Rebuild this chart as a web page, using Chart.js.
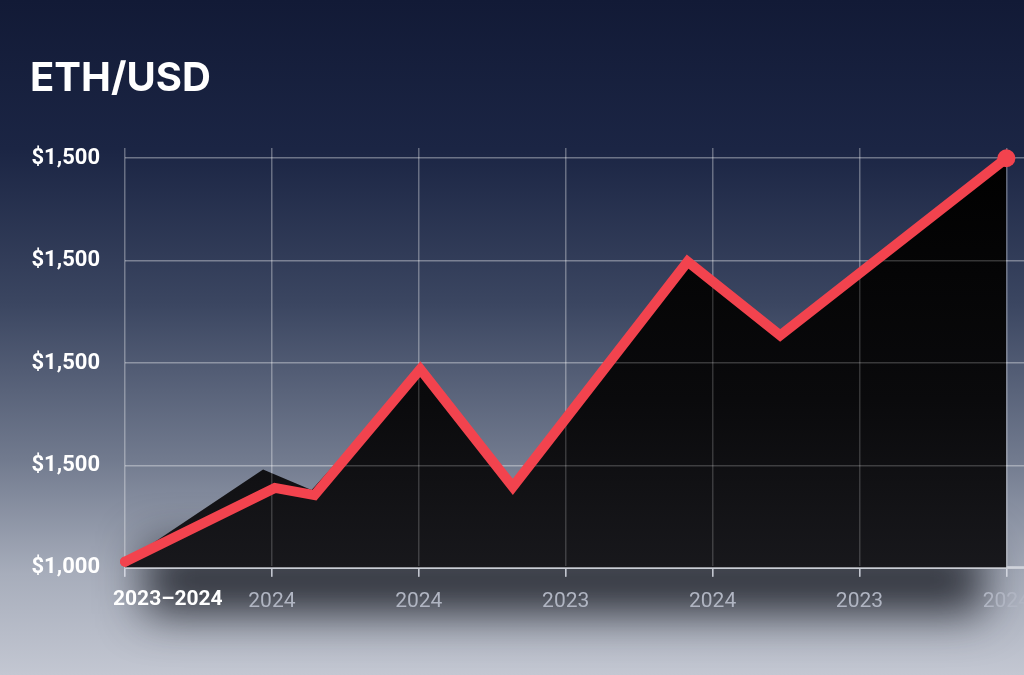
<!DOCTYPE html>
<html>
<head>
<meta charset="utf-8">
<title>ETH/USD</title>
<script src="https://cdn.jsdelivr.net/npm/chart.js@4.4.0/dist/chart.umd.min.js"></script>
<style>
  html, body { margin:0; padding:0; }
  body {
    width:1024px; height:675px; overflow:hidden;
    background: linear-gradient(180deg, #121a36 0%, #1b2544 22%, #3b4661 45%, #717a8e 68%, #a7adbb 85%, #c3c7d2 100%);
  }
  canvas { display:block; }
</style>
</head>
<body>
<canvas id="ethChart" width="1024" height="675"></canvas>
<script>
// tick labels
const xTicks = ['2023–2024', '2024', '2024', '2023', '2024', '2023', '2024'];
const yTicks = ['$1,000', '$1,500', '$1,500', '$1,500', '$1,500'];

// price line (x in tick units, y in gridline units)
const priceX = [0, 1.02, 1.29, 2.01, 2.64, 3.83, 4.46, 6.0];
const priceY = [0.06, 0.78, 0.71, 1.94, 0.79, 2.99, 2.27, 4.0];

// black area under the line (slightly different knee)
const areaX = [0, 0.94, 1.27, 2.01, 2.64, 3.83, 4.46, 6.0];
const areaY = [0.06, 0.96, 0.76, 1.94, 0.79, 2.99, 2.27, 4.0];

const RED = '#f2434e';

// soft dark shadow under the plot
const plotShadow = {
  id: 'plotShadow',
  beforeDraw(chart) {
    const { ctx, chartArea: a } = chart;
    ctx.save();
    ctx.shadowColor = 'rgba(18,20,28,0.8)';
    ctx.shadowBlur = 45;
    ctx.shadowOffsetX = 5000;
    ctx.shadowOffsetY = 28;
    ctx.fillStyle = '#000';
    ctx.fillRect(a.left + 20 - 5000, a.bottom - 50, a.right - a.left - 60, 68);
    ctx.restore();
  }
};

// grid lines show through the black area
const gridOverFill = {
  id: 'gridOverFill',
  afterDatasetDraw(chart, args) {
    if (args.index !== 1) return;
    chart.ctx.save();
    chart.scales.x.drawGrid(chart.chartArea);
    chart.scales.y.drawGrid(chart.chartArea);
    chart.ctx.restore();
  }
};

// first x label is bold and sits right of its tick
const firstLabel = {
  id: 'firstLabel',
  afterDraw(chart) {
    const sx = chart.scales.x, ctx = chart.ctx;
    ctx.save();
    ctx.font = '700 21px Roboto';
    ctx.fillStyle = '#ffffff';
    ctx.textAlign = 'left';
    ctx.textBaseline = 'middle';
    ctx.fillText(xTicks[0], sx.getPixelForValue(0) - 12, sx.top + 32);
    ctx.restore();
  }
};

const ctx = document.getElementById('ethChart').getContext('2d');

new Chart(ctx, {
  type: 'line',
  data: {
    datasets: [{
      data: priceX.map((x, i) => ({ x, y: priceY[i] })),
      borderColor: RED,
      borderWidth: 10,
      borderCapStyle: 'round',
      borderJoinStyle: 'miter',
      tension: 0,
      fill: false,
      pointRadius: priceX.map((_, i) => i === priceX.length - 1 ? 9 : (i === 0 ? 5 : 0)),
      pointBackgroundColor: RED,
      pointBorderWidth: 0,
      clip: false,
      order: 0
    }, {
      data: areaX.map((x, i) => ({ x, y: areaY[i] })),
      borderWidth: 0,
      pointRadius: 0,
      tension: 0,
      fill: 'origin',
      backgroundColor: (c) => {
        const a = c.chart.chartArea;
        if (!a) return '#000';
        const g = c.chart.ctx.createLinearGradient(0, a.top, 0, a.bottom);
        g.addColorStop(0, '#000000');
        g.addColorStop(0.6, '#0a0a0c');
        g.addColorStop(1, '#18181c');
        return g;
      },
      order: 1
    }]
  },
  options: {
    responsive: false,
    animation: false,
    layout: { autoPadding: false, padding: { left: 30, right: 0, top: 0, bottom: 49 } },
    plugins: {
      legend: { display: false },
      tooltip: { enabled: false },
      title: {
        display: true,
        text: 'ETH/USD',
        align: 'start',
        color: '#ffffff',
        font: { family: 'Inter', size: 40, weight: '700' },
        padding: { top: 55, bottom: 45 }
      }
    },
    scales: {
      x: {
        type: 'linear',
        min: 0,
        max: 6.12,
        afterBuildTicks: s => { s.ticks = xTicks.map((_, i) => ({ value: i })); },
        afterFit: s => { s.paddingLeft = 0; s.paddingRight = 0; },
        grid: { color: 'rgba(255,255,255,0.18)', lineWidth: 1.5, tickLength: 9, tickColor: 'rgba(220,224,232,0.6)' },
        border: { display: true, color: '#c5c9d2', width: 3 },
        ticks: {
          autoSkip: false,
          maxRotation: 0,
          padding: 12,
          color: '#b0b5c2',
          font: { family: 'Roboto', size: 21 },
          callback: (v, i) => i === 0 ? '' : xTicks[i]
        }
      },
      y: {
        min: 0,
        max: 4.1,
        afterBuildTicks: s => { s.ticks = yTicks.map((_, i) => ({ value: i })); },
        afterFit: s => { s.width = 95; },
        grid: { color: 'rgba(255,255,255,0.2)', lineWidth: 1.5, drawTicks: false },
        border: { display: false },
        ticks: {
          padding: 25,
          color: '#ffffff',
          font: { family: 'Roboto', size: 22, weight: '700' },
          callback: (v, i) => yTicks[i]
        }
      }
    }
  },
  plugins: [plotShadow, gridOverFill, firstLabel]
});
</script>
</body>
</html>
